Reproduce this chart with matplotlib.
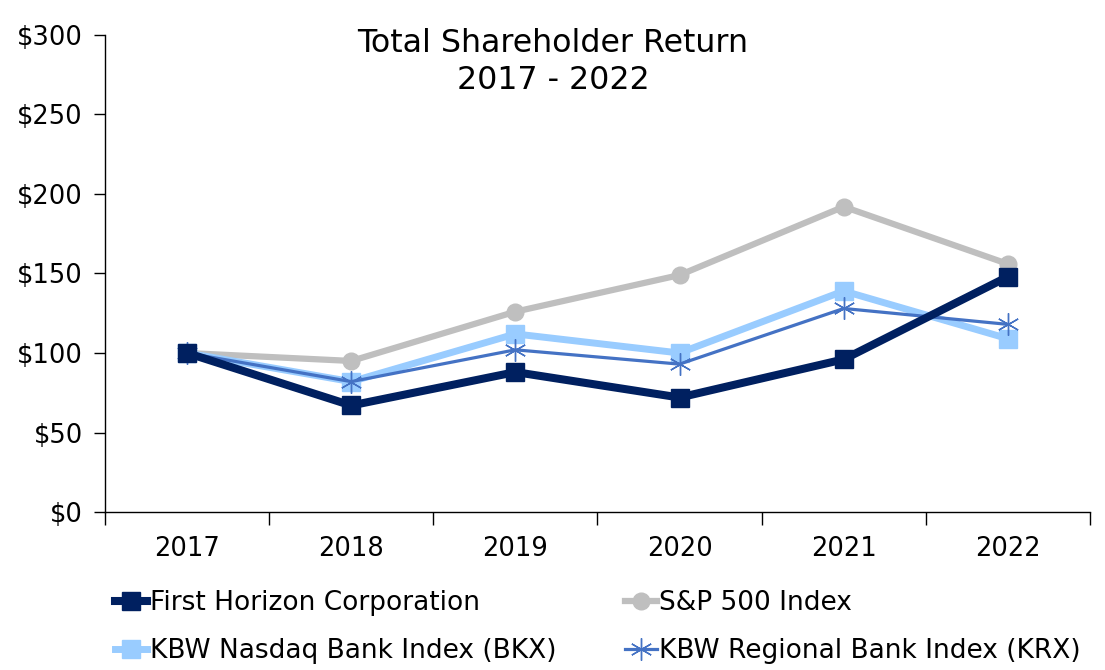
import numpy as np
import matplotlib
matplotlib.use("Agg")
import matplotlib.pyplot as plt

plt.rcParams["font.family"] = ["DejaVu Sans"]

years = ["2017", "2018", "2019", "2020", "2021", "2022"]
first_horizon = [100, 67, 88, 72, 96, 148]
sp500 = [100, 95, 126, 149, 192, 156]
bkx = [100, 82, 112, 100, 139, 109]
krx = [100, 82, 102, 93, 128, 118]
y_ticks = [0, 50, 100, 150, 200, 250, 300]

fig = plt.figure(figsize=(11.05, 6.7), dpi=100)
ax = fig.add_axes([0.095, 0.2358, 0.8914, 0.712])

x = np.arange(len(years))
asterisk = (6, 2, 0)

ax.plot(x, sp500, color="#BFBFBF", lw=4.5, marker="o", ms=12, label="S&P 500 Index", zorder=2)
ax.plot(x, bkx, color="#99CCFF", lw=5, marker="s", ms=13, label="KBW Nasdaq Bank Index (BKX)", zorder=3)
ax.plot(x, krx, color="#4472C4", lw=2.3, marker=asterisk, ms=16, mew=1.0,
        label="KBW Regional Bank Index (KRX)", zorder=4)
ax.plot(x, first_horizon, color="#002060", lw=5.8, marker="s", ms=13,
        label="First Horizon Corporation", zorder=5)

ax.set_xlim(-0.5, len(years) - 0.5)
ax.set_ylim(0, 300)
ax.set_yticks(y_ticks)
ax.set_yticklabels([f"${v}" for v in y_ticks])
ax.set_xticks(x)
ax.set_xticklabels(years)
ax.set_xticks(np.arange(-0.5, len(years)), minor=True)
ax.tick_params(axis="x", which="major", length=0, pad=17, labelsize=18.5)
ax.tick_params(axis="x", which="minor", length=9, width=1, direction="out")
ax.tick_params(axis="y", length=8, width=1, direction="out", labelsize=18.5, pad=8)

for s in ["top", "right"]:
    ax.spines[s].set_visible(False)
for s in ["left", "bottom"]:
    ax.spines[s].set_linewidth(1)

fig.text(0.5005, 0.908, "Total Shareholder Return\n2017 - 2022", ha="center", va="center",
         fontsize=22.8, linespacing=1.25)

h, l = ax.get_legend_handles_labels()
# column-major fill: FH, BKX | S&P, KRX
order = [3, 1, 0, 2]
fig.legend([h[i] for i in order], [l[i] for i in order], ncol=2, loc="lower left",
           bbox_to_anchor=(0.083, -0.027), frameon=False, fontsize=19,
           handlelength=1.2, handletextpad=0.1, columnspacing=2.6, labelspacing=0.85)

fig.savefig("out.png", dpi=100)
